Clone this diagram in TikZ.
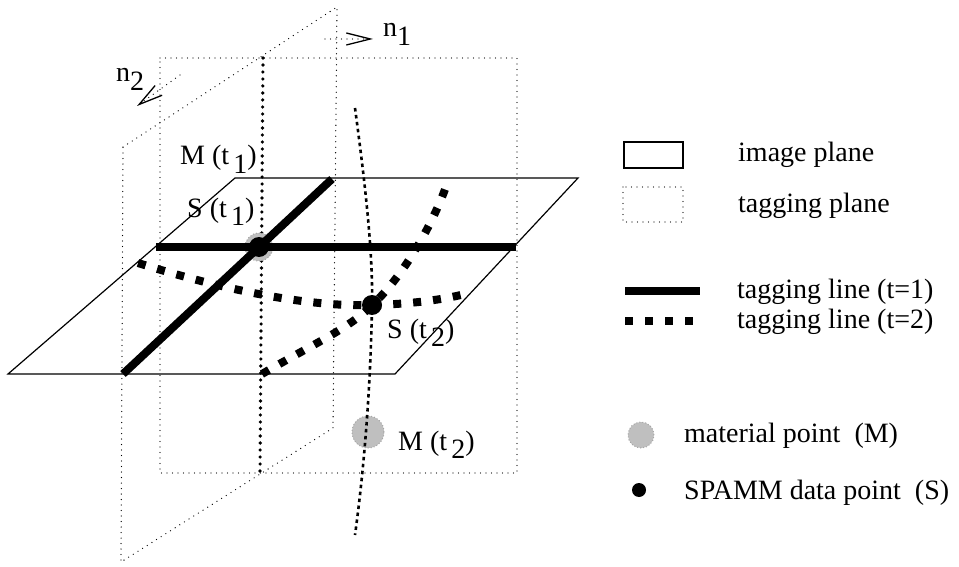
\documentclass[tikz,border=0pt]{standalone}
\usepackage{fontspec}
\setmainfont{Liberation Serif}
\usetikzlibrary{arrows.meta}
\newcommand\lowsub[1]{\raisebox{-0.3em}{#1}}
\begin{document}
\begin{tikzpicture}[x=1pt,y=-1pt,
  thindot/.style={line width=1.3pt, dash pattern=on 0pt off 5.5pt, line cap=round},
  thickdot/.style={line width=3.6pt, dash pattern=on 0pt off 7pt, line cap=round},
  trajline/.style={line width=2.6pt, dash pattern=on 3.5pt off 3.5pt},
  imgplane/.style={line width=1.2pt},
  tagone/.style={line width=8pt},
  tagtwo/.style={line width=8pt, dash pattern=on 8pt off 12pt},
  matpt/.style={circle, fill=gray!50, draw=gray!70, dotted, line width=1pt, inner sep=0pt},
  spammpt/.style={circle, fill=black, inner sep=0pt},
  lbl/.style={inner sep=0pt, anchor=base west, font=\fontsize{28}{32}\selectfont},
  normarrow/.style={thindot, -{Straight Barb[length=24pt,width=12pt,line width=1.3pt]}}
]
\useasboundingbox (0,0) rectangle (959,567);

% ---- corners
\coordinate (pa1) at (160,58);
\coordinate (pa2) at (517,58);
\coordinate (pa3) at (517,473);
\coordinate (pa4) at (160,473);
\coordinate (pb1) at (123,147);
\coordinate (pb2) at (337,7);
\coordinate (pb3) at (333,428);
\coordinate (pb4) at (121,562);
\coordinate (ix1) at (263,58);
\coordinate (ix2) at (260,473);
\coordinate (ip1) at (8,374);
\coordinate (ip2) at (235,178);
\coordinate (ip3) at (578,178);
\coordinate (ip4) at (395,374);

% ---- tagging planes
\draw[thindot] (pa1) -- (pa2) -- (pa3) -- (pa4) -- cycle;
\draw[thindot] (pb1) -- (pb2) -- (pb3) -- (pb4) -- cycle;

% ---- image plane
\draw[imgplane] (ip1) -- (ip2) -- (ip3) -- (ip4) -- cycle;

% ---- normals
\coordinate (n1s) at (325,39);
\coordinate (n1e) at (373,39);
\coordinate (n2s) at (180,75);
\coordinate (n2e) at (137,106);
\draw[normarrow] (n1s) -- (n1e);
\draw[normarrow] (n2s) -- (n2e);
\node[lbl] (n1) at (383,37) {n\lowsub{1}};
\node[lbl] (n2) at (116,82) {n\lowsub{2}};

% ---- intersection line of the tagging planes
\draw[thickdot] (ix1) -- (ix2);

% ---- points
\coordinate (s1) at (259,247);
\coordinate (s2) at (372,305);
\node[matpt, minimum size=28pt] (m1) at (s1) {};
\node[matpt, minimum size=32pt] (m2) at (368,432) {};

% ---- trajectory
\coordinate (tr1) at (355,108);
\coordinate (tr2) at (355,535);
\draw[trajline] (tr1) .. controls (366,190) and (373,255) .. (s2)
  .. controls (371,370) and (366,455) .. (tr2);

% ---- tagging lines t=1
\coordinate (h1) at (156,247);
\coordinate (h2) at (516,247);
\coordinate (d1) at (123,374);
\coordinate (d2) at (332,179);
\draw[tagone] (h1) -- (h2);
\draw[tagone] (d1) -- (d2);

% ---- tagging lines t=2
\coordinate (ca) at (138,263);
\coordinate (cb) at (465,294);
\coordinate (da) at (262,374);
\coordinate (db) at (448,181);
\draw[tagtwo] (ca) .. controls (240,295) and (320,307) .. (s2)
  .. controls (415,304) and (445,299) .. (cb);
\draw[tagtwo] (da) .. controls (315,343) and (350,328) .. (s2)
  .. controls (400,280) and (432,228) .. (db);

% ---- SPAMM points
\node[spammpt, minimum size=20pt] (s1dot) at (s1) {};
\node[spammpt, minimum size=20pt] (s2dot) at (s2) {};

% ---- labels
\node[lbl] (lm1) at (180,165) {M (t\hspace{0.15em}\lowsub{1})};
\node[lbl] (ls1) at (187,217) {S (t\hspace{0.15em}\lowsub{1})};
\node[lbl] (ls2) at (387,338) {S (t\hspace{0.15em}\lowsub{2})};
\node[lbl] (lm2) at (398,450) {M (t\hspace{0.15em}\lowsub{2})};

% ---- legend
\coordinate (lg1a) at (624,142);
\coordinate (lg1b) at (683,168);
\draw[imgplane] (lg1a) rectangle (lg1b);
\node[lbl] (lt1) at (738,162) {image plane};

\coordinate (lg2a) at (623,187);
\coordinate (lg2b) at (683,222);
\draw[thindot] (lg2a) rectangle (lg2b);
\node[lbl] (lt2) at (738,212) {tagging plane};

\coordinate (lg3a) at (625,291);
\coordinate (lg3b) at (700,291);
\draw[tagone] (lg3a) -- (lg3b);
\node[lbl] (lt3) at (737,298) {tagging line (t=1)};

\coordinate (lg4a) at (625,321);
\coordinate (lg4b) at (702,321);
\draw[tagtwo] (lg4a) -- (lg4b);
\node[lbl] (lt4) at (737,328) {tagging line (t=2)};

\node[matpt, minimum size=26pt] (lg5) at (641,435) {};
\node[lbl] (lt5) at (684,442) {material point\ \ (M)};

\node[spammpt, minimum size=14pt] (lg6) at (639,490) {};
\node[lbl] (lt6) at (684,499) {SPAMM data point\ \ (S)};
\end{tikzpicture}
\end{document}
